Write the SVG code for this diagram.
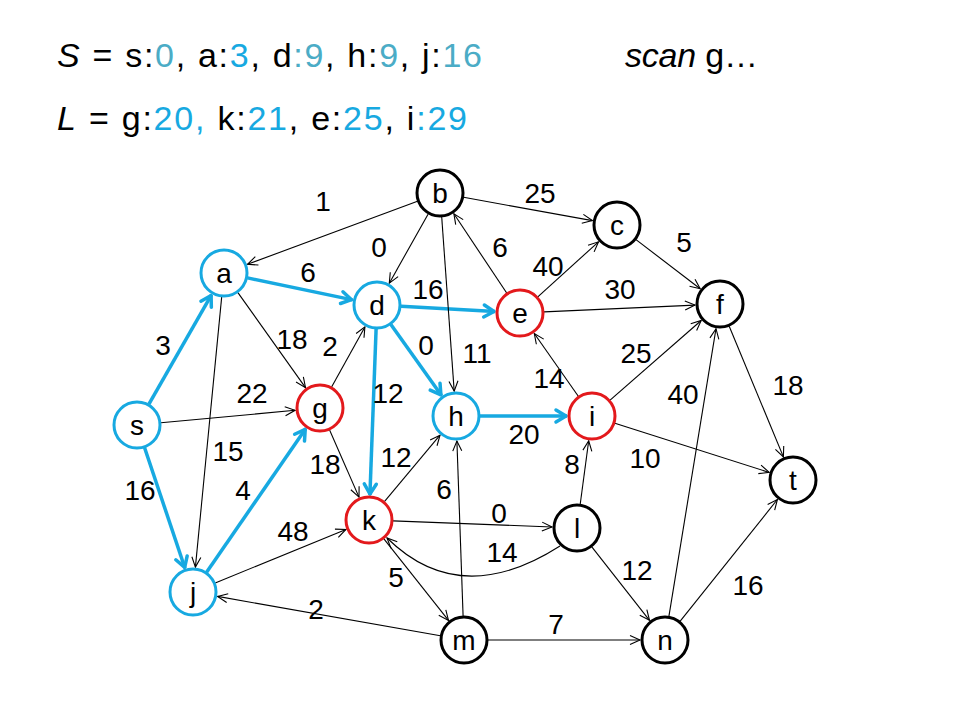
<svg xmlns="http://www.w3.org/2000/svg" width="960" height="720" viewBox="0 0 960 720">
<defs>
<style>
.t{font-family:"Liberation Sans",Arial,sans-serif;fill:#000}
.title{font-size:34px}
.lbl{font-size:28px;text-anchor:middle}
.node{fill:#fff;stroke-width:3}
.nb{stroke:#000}
.nl{stroke:#17A9E1}
.nr{stroke:#E3191C}
.e{stroke:#000;stroke-width:1.1;fill:none;marker-end:url(#ah)}
.eb{stroke:#17A9E1;stroke-width:3.5;fill:none;marker-end:url(#ahb)}
.teal{fill:#4BACC6}
.blue{fill:#17A9E1}
</style>
<marker id="ah" markerUnits="userSpaceOnUse" viewBox="-12 -7 14 14" refX="0" refY="0" markerWidth="14" markerHeight="14" orient="auto" overflow="visible">
<path d="M-10,-4.5 L0,0 L-10,4.5" fill="none" stroke="#000" stroke-width="1.1"/>
</marker>
<marker id="ahb" markerUnits="userSpaceOnUse" viewBox="-14 -8 16 16" refX="0" refY="0" markerWidth="16" markerHeight="16" orient="auto" overflow="visible">
<path d="M-11,-6 L-1,0 L-11,6" fill="none" stroke="#17A9E1" stroke-width="3.5" stroke-linecap="round" stroke-linejoin="round"/>
</marker>
</defs>
<rect width="960" height="720" fill="#fff"/>
<g id="title" class="t title">
<text x="57" y="67" textLength="425" lengthAdjust="spacing"><tspan font-style="italic">S</tspan> = s:<tspan class="teal">0</tspan>, a:<tspan class="blue">3</tspan>, d<tspan class="teal">:9</tspan>, h:<tspan class="teal">9</tspan>, j:<tspan class="teal">16</tspan></text>
<text x="57" y="130" textLength="410" lengthAdjust="spacing"><tspan font-style="italic">L</tspan> = g:<tspan class="blue">20, </tspan>k:<tspan class="blue">21</tspan>, e:<tspan class="blue">25</tspan>, i<tspan class="blue">:29</tspan></text>
<text x="625" y="67" textLength="133" lengthAdjust="spacing"><tspan font-style="italic">scan</tspan> g…</text>
</g>
<g id="connectors">
<line class="eb" x1="148.9" y1="404.2" x2="211.6" y2="294.7"/>
<line class="eb" x1="144.6" y1="447.8" x2="185.0" y2="568.3"/>
<line class="eb" x1="247.5" y1="277.9" x2="352.5" y2="299.9"/>
<line class="eb" x1="401" y1="306.3" x2="495" y2="311.6"/>
<line class="eb" x1="390.9" y1="324.6" x2="441.5" y2="395.6"/>
<line class="eb" x1="376.1" y1="329" x2="369.9" y2="495"/>
<line class="eb" x1="480" y1="416" x2="567" y2="416"/>
<line class="eb" x1="206.6" y1="572.2" x2="305.8" y2="428.6"/>
<line class="e" x1="417.5" y1="201.3" x2="247.5" y2="264.3"/>
<line class="e" x1="428.2" y1="213.9" x2="389.3" y2="283.2"/>
<line class="e" x1="463.6" y1="197.3" x2="592.4" y2="220.6"/>
<line class="e" x1="441.7" y1="216.9" x2="454.2" y2="391.1"/>
<line class="e" x1="506.7" y1="293" x2="453.9" y2="213.8"/>
<line class="e" x1="537.8" y1="296.9" x2="598.5" y2="241.8"/>
<line class="e" x1="544" y1="311.9" x2="695" y2="305.1"/>
<line class="e" x1="636" y1="239.6" x2="700.2" y2="288.8"/>
<line class="e" x1="237.9" y1="292.6" x2="305.5" y2="387.6"/>
<line class="e" x1="331.6" y1="387" x2="364.9" y2="326.9"/>
<line class="e" x1="160.9" y1="422.8" x2="295.1" y2="410.3"/>
<line class="e" x1="221.7" y1="296.9" x2="195.4" y2="567.1"/>
<line class="e" x1="329.6" y1="430" x2="359" y2="497.1"/>
<line class="e" x1="384.4" y1="501.6" x2="440" y2="435.2"/>
<line class="e" x1="578.3" y1="396.3" x2="534.3" y2="333.5"/>
<line class="e" x1="610.1" y1="400.2" x2="701.2" y2="320.5"/>
<line class="e" x1="614.9" y1="423.3" x2="769.2" y2="472.4"/>
<line class="e" x1="729.2" y1="326.2" x2="783.4" y2="456.9"/>
<line class="e" x1="668.9" y1="616.3" x2="716" y2="328.7"/>
<line class="e" x1="580.2" y1="504.2" x2="588.7" y2="440.8"/>
<line class="e" x1="393" y1="520.9" x2="552" y2="527"/>
<path class="e" d="M560,546 Q460,610 387,538"/>
<line class="e" x1="591.8" y1="546.9" x2="649.5" y2="620.3"/>
<line class="e" x1="463.1" y1="616" x2="456.9" y2="441"/>
<line class="e" x1="383.9" y1="538.8" x2="448.5" y2="620.4"/>
<line class="e" x1="440.4" y1="635.8" x2="217.6" y2="596.4"/>
<line class="e" x1="488" y1="640" x2="640" y2="640"/>
<line class="e" x1="215.2" y1="582.9" x2="345.9" y2="529.5"/>
<line class="e" x1="680" y1="621.3" x2="777.4" y2="499.5"/>
</g>
<g id="edge-labels" class="t lbl">
<text x="323" y="211">1</text>
<text x="540" y="203">25</text>
<text x="379" y="257">0</text>
<text x="500" y="257">6</text>
<text x="684" y="252">5</text>
<text x="548" y="276">40</text>
<text x="308" y="282">6</text>
<text x="428" y="299">16</text>
<text x="620" y="299">30</text>
<text x="163" y="355">3</text>
<text x="292" y="349">18</text>
<text x="330" y="356">2</text>
<text x="426" y="355">0</text>
<text x="477" y="363">11</text>
<text x="636" y="363">25</text>
<text x="549" y="388">14</text>
<text x="252" y="403">22</text>
<text x="388" y="403">12</text>
<text x="683" y="404">40</text>
<text x="788" y="395">18</text>
<text x="524" y="444">20</text>
<text x="228" y="461">15</text>
<text x="325" y="474">18</text>
<text x="396" y="467">12</text>
<text x="572" y="474">8</text>
<text x="645" y="468">10</text>
<text x="140" y="500">16</text>
<text x="243" y="500">4</text>
<text x="444" y="499">6</text>
<text x="499" y="523">0</text>
<text x="293" y="541">48</text>
<text x="502" y="562">14</text>
<text x="637" y="580">12</text>
<text x="396" y="587">5</text>
<text x="748" y="595">16</text>
<text x="316" y="619">2</text>
<text x="556" y="634">7</text>
</g>
<g id="node-s"><circle class="node nl" cx="137" cy="425" r="23"/><text class="t lbl" x="137" y="435">s</text></g>
<g id="node-a"><circle class="node nl" cx="224" cy="273" r="23"/><text class="t lbl" x="224" y="283">a</text></g>
<g id="node-b"><circle class="node nb" cx="440" cy="193" r="23"/><text class="t lbl" x="440" y="203">b</text></g>
<g id="node-c"><circle class="node nb" cx="617" cy="225" r="23"/><text class="t lbl" x="617" y="235">c</text></g>
<g id="node-d"><circle class="node nl" cx="377" cy="305" r="23"/><text class="t lbl" x="377" y="315">d</text></g>
<g id="node-e"><circle class="node nr" cx="520" cy="313" r="23"/><text class="t lbl" x="520" y="323">e</text></g>
<g id="node-f"><circle class="node nb" cx="720" cy="304" r="23"/><text class="t lbl" x="720" y="314">f</text></g>
<g id="node-g"><circle class="node nr" cx="320" cy="408" r="23"/><text class="t lbl" x="320" y="418">g</text></g>
<g id="node-h"><circle class="node nl" cx="456" cy="416" r="23"/><text class="t lbl" x="456" y="426">h</text></g>
<g id="node-i"><circle class="node nr" cx="592" cy="416" r="23"/><text class="t lbl" x="592" y="426">i</text></g>
<g id="node-j"><circle class="node nl" cx="193" cy="592" r="23"/><text class="t lbl" x="193" y="602">j</text></g>
<g id="node-k"><circle class="node nr" cx="369" cy="520" r="23"/><text class="t lbl" x="369" y="530">k</text></g>
<g id="node-l"><circle class="node nb" cx="577" cy="528" r="23"/><text class="t lbl" x="577" y="538">l</text></g>
<g id="node-m"><circle class="node nb" cx="464" cy="640" r="23"/><text class="t lbl" x="464" y="650">m</text></g>
<g id="node-n"><circle class="node nb" cx="665" cy="640" r="23"/><text class="t lbl" x="665" y="650">n</text></g>
<g id="node-t"><circle class="node nb" cx="793" cy="480" r="23"/><text class="t lbl" x="793" y="490">t</text></g>
</svg>
